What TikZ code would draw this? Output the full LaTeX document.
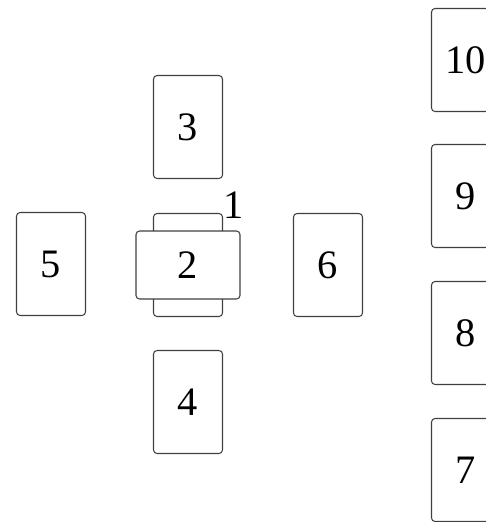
\documentclass[tikz,border=0pt]{standalone}
\usepackage{fontspec}
\setmainfont{Liberation Serif}
\begin{document}
\begin{tikzpicture}[x=0.02cm,y=-0.02cm,
  every node/.style={font=\fontsize{23}{27}\selectfont},
  card/.style={draw=black!75,line width=0.6pt,rounded corners=2pt,fill=white,
    minimum width=1.38cm,minimum height=2.06cm,inner sep=0pt},
  crosscard/.style={card,minimum width=2.08cm,minimum height=1.36cm}]
\clip (0,0) rectangle (486,522);
% cross
\node[card] (c1) at (188,265) {};
\node[crosscard] (c2) at (188,265) {2};
\node (l1) at (234,205) {1};
\node[card] (c3) at (188,127) {3};
\node[card] (c4) at (188,402) {4};
\node[card] (c5) at (51,264) {5};
\node[card] (c6) at (328,265) {6};
% staff
\node[card] (c7) at (466,470) {7};
\node[card] (c8) at (466,333) {8};
\node[card] (c9) at (466,196) {9};
\node[card] (c10) at (466,60) {10};
\end{tikzpicture}
\end{document}
